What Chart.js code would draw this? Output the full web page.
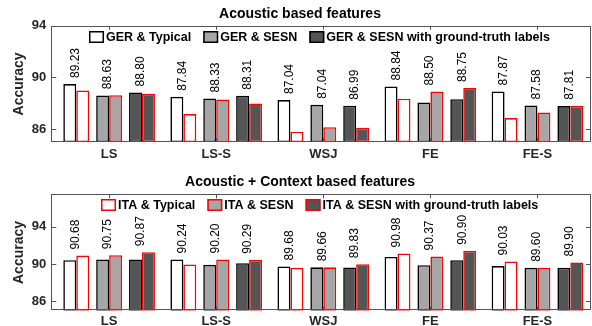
<!DOCTYPE html>
<html>
<head>
<meta charset="utf-8">
<script src="https://cdn.jsdelivr.net/npm/chart.js@4.4.1/dist/chart.umd.min.js"></script>
<style>
  html, body { margin: 0; padding: 0; background: #fff; }
  body { width: 592px; height: 326px; overflow: hidden; }
  .panel { width: 592px; height: 163px; overflow: hidden; }
  canvas { display: block; }
</style>
</head>
<body>
<div class="panel"><canvas id="acoustic" width="592" height="163"></canvas></div>
<div class="panel"><canvas id="context" width="592" height="167"></canvas></div>
<script>
const categories = ["LS", "LS-S", "WSJ", "FE", "FE-S"];
const yTicks = [86, 90, 94];
const seriesNames = [
    "GER & Typical", "ITA & Typical",
    "GER & SESN", "ITA & SESN",
    "GER & SESN with ground-truth labels", "ITA & SESN with ground-truth labels",
];

// Acoustic based features
const acGerTypical = [89.49, 88.50, 88.25, 89.30, 88.91];
const acItaTypical = [88.99, 87.16, 85.80, 88.35, 86.85];
const acGerSesn    = [88.61, 88.37, 87.88, 88.06, 87.83];
const acItaSesn    = [88.63, 88.29, 86.15, 88.91, 87.29];
const acGerGt      = [88.84, 88.58, 87.81, 88.32, 87.78];
const acItaGt      = [88.74, 87.99, 86.10, 89.18, 87.80];
// numbers printed above each pair of bars
const acTypicalLbl = [89.23, 87.84, 87.04, 88.84, 87.87];
const acSesnLbl    = [88.63, 88.33, 87.04, 88.50, 87.58];
const acGtLbl      = [88.80, 88.31, 86.99, 88.75, 87.81];

// Acoustic + Context based features
const cxGerTypical = [90.43, 90.50, 89.75, 90.78, 89.79];
const cxItaTypical = [90.92, 89.96, 89.60, 91.14, 90.28];
const cxGerSesn    = [90.50, 89.93, 89.66, 89.89, 89.60];
const cxItaSesn    = [90.96, 90.50, 89.66, 90.82, 89.60];
const cxGerGt      = [90.50, 90.10, 89.64, 90.43, 89.60];
const cxItaGt      = [91.28, 90.46, 90.00, 91.43, 90.18];
const cxTypicalLbl = [90.68, 90.24, 89.68, 90.98, 90.03];
const cxSesnLbl    = [90.75, 90.20, 89.66, 90.37, 89.60];
const cxGtLbl      = [90.87, 90.29, 89.83, 90.90, 89.90];

const FONT = "'Liberation Sans', Arial, Helvetica, sans-serif";
const INK = "#262626";
Chart.defaults.font.family = FONT;

// bars come in touching pairs with a small gap between pairs;
// each dataset gets its own category/bar percentage so the library puts it there
const PAIR_PITCH = 0.307, BAR_W = 0.121;   // fractions of one category
function slot(i) {
    const pair = Math.floor(i / 2) - 1;
    const side = i % 2 ? 0.5 : -0.5;
    const off = pair * PAIR_PITCH + side * BAR_W;
    const f = (i + 0.5) / 6 - 0.5;
    const cp = off / f;
    return { categoryPercentage: cp, barPercentage: BAR_W * 6 / cp };
}

function makeDatasets(series) {
    return series.map((data, i) => Object.assign({
        label: seriesNames[i],
        data: data,
        backgroundColor: i < 2 ? "#ffffff" : (i < 4 ? "#a6a6a6" : "#555555"),
        borderColor: i % 2 ? "#ff0000" : "#000000",
        borderWidth: 1.6,
        borderSkipped: false,
        base: 85,
    }, slot(i)));
}

// box around the plot with inward ticks
const frame = {
    id: "frame",
    afterDatasetsDraw(chart) {
        const { ctx, chartArea: a, scales: { x, y } } = chart;
        ctx.save();
        ctx.strokeStyle = "#555";
        ctx.lineWidth = 1;
        ctx.strokeRect(Math.round(a.left) + 0.5, Math.round(a.top) + 0.5,
            Math.round(a.width) - 1, Math.round(a.height) - 1);
        ctx.beginPath();
        y.ticks.forEach(t => {
            const py = Math.round(y.getPixelForValue(t.value)) + 0.5;
            ctx.moveTo(a.left, py); ctx.lineTo(a.left + 5, py);
            ctx.moveTo(a.right, py); ctx.lineTo(a.right - 5, py);
        });
        x.ticks.forEach((t, i) => {
            const px = Math.round(x.getPixelForTick(i)) + 0.5;
            ctx.moveTo(px, a.top); ctx.lineTo(px, a.top + 4);
            ctx.moveTo(px, a.bottom); ctx.lineTo(px, a.bottom - 4);
        });
        ctx.stroke();
        ctx.restore();
    }
};

// rotated value above each pair
function pairLabels(values) {
    return {
        id: "pairLabels",
        afterDatasetsDraw(chart) {
            const ctx = chart.ctx;
            ctx.save();
            ctx.fillStyle = "#000";
            ctx.font = "12px " + FONT;
            ctx.textAlign = "left";
            ctx.textBaseline = "middle";
            values.forEach((vals, p) => {
                const a = chart.getDatasetMeta(2 * p).data;
                const b = chart.getDatasetMeta(2 * p + 1).data;
                vals.forEach((v, j) => {
                    const x = (a[j].x + b[j].x) / 2 - 1;
                    const y = Math.min(a[j].y, b[j].y) - 6;
                    ctx.save();
                    ctx.translate(x, y);
                    ctx.rotate(-Math.PI / 2);
                    ctx.fillText(v.toFixed(2), 0, 0);
                    ctx.restore();
                });
            });
            ctx.restore();
        }
    };
}

// one-row legend drawn inside the plot box
function boxLegend(indices) {
    return {
        id: "boxLegend",
        afterDraw(chart) {
            const { ctx, chartArea: a } = chart;
            const items = indices.map(i => chart.data.datasets[i]);
            const BOX_W = 15, BOX_H = 12, GAP = 2, SEP = 12;
            ctx.save();
            ctx.font = "bold 12.5px " + FONT;
            const widths = items.map(d => BOX_W + GAP + ctx.measureText(d.label).width);
            const total = widths.reduce((s, w) => s + w, 0) + SEP * (items.length - 1);
            let x = Math.round((a.left + a.right) / 2 - total / 2 - 2);
            const y = Math.round(a.top) + 5;
            items.forEach((d, k) => {
                ctx.fillStyle = d.backgroundColor;
                ctx.fillRect(x, y, BOX_W, BOX_H);
                ctx.strokeStyle = d.borderColor;
                ctx.lineWidth = 1.5;
                ctx.strokeRect(x + 0.75, y + 0.75, BOX_W - 1.5, BOX_H - 1.5);
                ctx.fillStyle = "#000";
                ctx.textBaseline = "middle";
                ctx.fillText(d.label, x + BOX_W + GAP, y + BOX_H / 2 + 0.5);
                x += widths[k] + SEP;
            });
            ctx.restore();
        }
    };
}

function makeChart(id, title, series, yMax, labels, legendIdx, lay) {
    return new Chart(document.getElementById(id), {
        type: "bar",
        data: { labels: categories, datasets: makeDatasets(series) },
        options: {
            responsive: false,
            animation: false,
            layout: { padding: { left: 9, right: 1, top: 2, bottom: 0 } },
            plugins: {
                legend: { display: false },
                tooltip: { enabled: false },
                title: {
                    display: true,
                    text: title,
                    color: "#000",
                    font: { size: 14, weight: "bold" },
                    padding: { top: lay.titleTop, bottom: lay.titleBottom },
                },
            },
            scales: {
                x: {
                    offset: true,
                    grid: { display: false, drawTicks: false },
                    border: { display: false },
                    ticks: {
                        color: INK,
                        font: { size: 13, weight: "bold" },
                        padding: lay.xPad,
                        maxRotation: 0,
                        autoSkip: false,
                    },
                    // the plot box starts a little further left of the first group
                    afterBuildTicks: s => { s._startValue = -0.54; s._valueRange = 5.04; },
                    afterFit: s => { s.height = lay.xHeight; },
                },
                y: {
                    min: 85,
                    max: yMax,
                    afterBuildTicks: s => { s.ticks = yTicks.map(v => ({ value: v })); },
                    afterFit: s => { s.width = 42.3; },
                    grid: { display: false, drawTicks: false },
                    border: { display: false },
                    ticks: { color: INK, font: { size: 13, weight: "bold" }, padding: 5 },
                    title: {
                        display: true,
                        text: "Accuracy",
                        color: INK,
                        font: { size: 14, weight: "bold" },
                        padding: { top: 2, bottom: 2 },
                    },
                },
            },
        },
        plugins: [frame, pairLabels(labels), boxLegend(legendIdx)],
    });
}

makeChart("acoustic", "Acoustic based features",
    [acGerTypical, acItaTypical, acGerSesn, acItaSesn, acGerGt, acItaGt], 94,
    [acTypicalLbl, acSesnLbl, acGtLbl], [0, 2, 4],
    { titleTop: 4, titleBottom: 3, xPad: 5, xHeight: 21 });

makeChart("context", "Acoustic + Context based features",
    [cxGerTypical, cxItaTypical, cxGerSesn, cxItaSesn, cxGerGt, cxItaGt], 97.5,
    [cxTypicalLbl, cxSesnLbl, cxGtLbl], [1, 3, 5],
    { titleTop: 9, titleBottom: 3.5, xPad: 3, xHeight: 19.3 });
</script>
</body>
</html>
